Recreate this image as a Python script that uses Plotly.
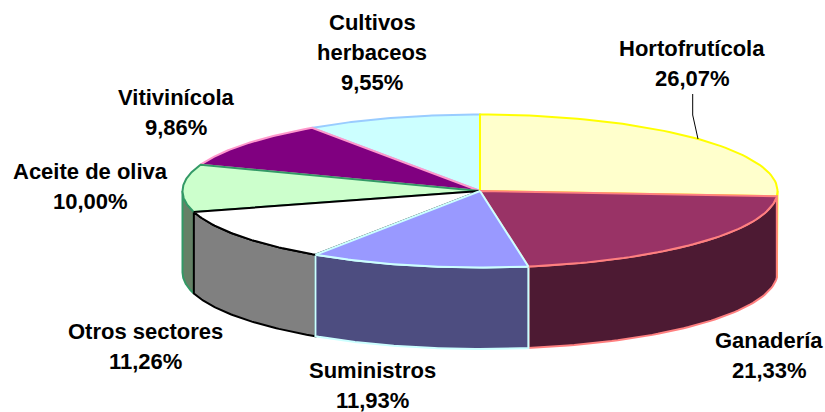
import numpy as np
import plotly.graph_objects as go

# Data
sectors = ["Hortofrutícola", "Ganadería", "Suministros", "Otros sectores",
           "Aceite de oliva", "Vitivinícola", "Cultivos herbaceos"]
shares = [26.07, 21.33, 11.93, 11.26, 10.00, 9.86, 9.55]
share_labels = ["26,07%", "21,33%", "11,93%", "11,26%", "10,00%", "9,86%", "9,55%"]
name_lines = [["Hortofrutícola"], ["Ganadería"], ["Suministros"], ["Otros sectores"],
              ["Aceite de oliva"], ["Vitivinícola"], ["Cultivos", "herbaceos"]]

# Styles
top_colors = ["#FFFFCC", "#993366", "#9999FF", "#FFFFFF", "#CCFFCC", "#800080", "#CCFFFF"]
side_colors = ["#808066", "#4D1A33", "#4D4D80", "#808080", "#668066", "#400040", "#668080"]
edge_colors = ["#FFFF00", "#FF8080", "#CCFFFF", "#000000", "#339966", "#FF99CC", "#99CCFF"]
top_order = [6, 5, 4, 3, 0, 1, 2]
side_order = [4, 3, 0, 1, 2]
label_x = [692, 769, 372, 145, 90, 176, 372]
label_y = [48, 340, 370, 331, 171, 97, 22]
LINE_STEP = 30
FONT = "Liberation Sans, Arial, sans-serif"
FONT_SIZE = 22

CX, CY, RX, RY, DEPTH = 480, 191, 297.5, 76.5, 81.5
LEADER_X = [692.7, 692.7, 698]
LEADER_Y = [94, 115, 139]


def rim(a0, a1, n=60):
    t = np.radians(np.linspace(a0, a1, n))
    return CX + RX * np.sin(t), CY - RY * np.cos(t)


cum = np.concatenate([[0], np.cumsum(shares)])
angles = cum / cum[-1] * 360

fig = go.Figure()


def poly(x, y, fill, edge, width=2):
    fig.add_trace(go.Scatter(
        x=list(x), y=list(y), mode="lines", fill="toself", fillcolor=fill,
        line=dict(color=edge, width=width), hoverinfo="skip", showlegend=False))


# Walls: only the front half of the rim is visible
for i in side_order:
    a0, a1 = max(angles[i], 90), min(angles[i + 1], 270)
    if a1 <= a0:
        continue
    x, y = rim(a0, a1)
    poly(np.r_[x, x[::-1], x[0]], np.r_[y, y[::-1] + DEPTH, y[0]],
         side_colors[i], edge_colors[i])

# Top faces
for i in top_order:
    x, y = rim(angles[i], angles[i + 1])
    poly(np.r_[CX, x, CX], np.r_[CY, y, CY], top_colors[i], edge_colors[i])

# Leader line
fig.add_trace(go.Scatter(x=LEADER_X, y=LEADER_Y, mode="lines",
                         line=dict(color="#000000", width=1),
                         hoverinfo="skip", showlegend=False))

# Labels
for i in range(len(sectors)):
    lines = name_lines[i] + [share_labels[i]]
    for k, text in enumerate(lines):
        fig.add_annotation(x=label_x[i], y=label_y[i] + k * LINE_STEP, text=f"<b>{text}</b>",
                           showarrow=False, xanchor="center", yanchor="middle",
                           font=dict(family=FONT, size=FONT_SIZE, color="#000000"))

fig.update_layout(
    width=825, height=412, margin=dict(l=0, r=0, t=0, b=0),
    paper_bgcolor="#FFFFFF", plot_bgcolor="#FFFFFF", showlegend=False,
    xaxis=dict(range=[0, 825], visible=False, fixedrange=True),
    yaxis=dict(range=[412, 0], visible=False, fixedrange=True),
)
fig.write_html("out.html", config=dict(displayModeBar=False),
               post_script="document.body.style.margin='0';document.documentElement.style.overflow='hidden';")
